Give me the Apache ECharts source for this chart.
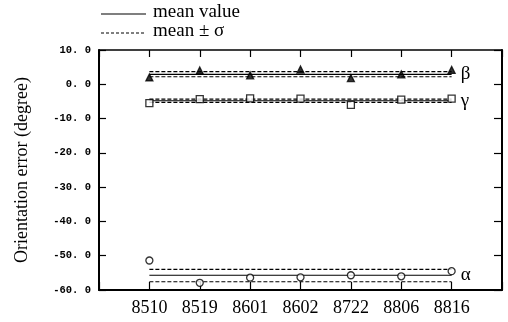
<!DOCTYPE html>
<html>
<head>
<meta charset="utf-8">
<script src="https://cdn.jsdelivr.net/npm/echarts@6/dist/echarts.min.js"></script>
<style>
  html, body { margin: 0; padding: 0; background: #fff; }
  #chart { width: 508px; height: 322px; }
</style>
</head>
<body>
<div id="chart"></div>
<script>
// receiver ids on the x axis
const categories = ['8510', '8519', '8601', '8602', '8722', '8806', '8816'];
const yTicks = [10, 0, -10, -20, -30, -40, -50, -60];

// orientation errors per receiver (degree)
const alpha = [-51.4, -57.9, -56.4, -56.3, -55.7, -56.0, -54.5];
const beta = [2.0, 4.0, 2.6, 4.3, 1.8, 2.9, 4.2];
const gamma = [-5.5, -4.35, -4.1, -4.2, -6.0, -4.5, -4.2];

// [mean + sigma, mean, mean - sigma]
const alphaBand = [-54.0, -55.7, -57.6];
const betaBand = [3.7, 2.9, 2.2];
const gammaBand = [-4.3, -4.8, -5.3];

const SERIF = '"Liberation Serif", "DejaVu Serif", serif';
const chart = echarts.init(document.getElementById('chart'));

const pts = arr => arr.map((v, i) => [i + 1, v]);
const flat = v => [[1, v], [categories.length, v]];

function group(name, values, band, symbol, size) {
  const dashed = {color: '#000', width: 1.2, type: [4, 2]};
  return [
    {
      type: 'line', data: flat(band[0]), symbol: 'none', silent: true,
      lineStyle: dashed,
    },
    {
      type: 'line', data: flat(band[1]), symbol: 'none', silent: true,
      lineStyle: {color: '#000', width: 1.2},
      endLabel: {
        show: true, formatter: name, distance: 9,
        fontFamily: SERIF, fontSize: 19, color: '#000',
      },
    },
    {
      type: 'line', data: flat(band[2]), symbol: 'none', silent: true,
      lineStyle: dashed,
    },
    {
      type: 'scatter', data: pts(values), symbol: symbol, symbolSize: size,
      itemStyle: {color: symbol === 'triangle' ? '#000' : '#fff', borderColor: '#000', borderWidth: 1.3},
      z: 5,
    },
  ];
}

const xBase = {
  type: 'value', min: 0, max: categories.length + 1, interval: 1,
  splitLine: {show: false},
  axisTick: {inside: true, length: 8, lineStyle: {color: '#000', width: 1.2}},
};

chart.setOption({
  animation: false,
  grid: {left: 99, right: 6, top: 50, bottom: 32},
  xAxis: [
    Object.assign({}, xBase, {
      position: 'bottom',
      axisLine: {onZero: false, lineStyle: {color: '#000', width: 2}},
      axisLabel: {
        margin: 9, color: '#000', fontFamily: SERIF, fontSize: 18,
        formatter: v => categories[v - 1] || '',
      },
    }),
    Object.assign({}, xBase, {
      position: 'top',
      axisLine: {onZero: false, lineStyle: {color: '#000', width: 1.5}},
      axisTick: {inside: true, length: 7, lineStyle: {color: '#000', width: 1.2}},
      axisLabel: {show: false},
    }),
  ],
  yAxis: [
    {
      type: 'value', position: 'left',
      min: yTicks[yTicks.length - 1], max: yTicks[0], interval: 10,
      splitLine: {show: false},
      axisLine: {show: true, onZero: false, lineStyle: {color: '#000', width: 2}},
      axisTick: {show: true, inside: true, length: 7, lineStyle: {color: '#000', width: 1.2}},
      axisLabel: {
        margin: 8, color: '#000', fontFamily: '"Liberation Mono", monospace',
        fontWeight: 'bold', fontSize: 10.5,
        formatter: v => v.toFixed(1).replace('.', '. '),
      },
      name: 'Orientation error (degree)',
      nameLocation: 'middle', nameGap: 68,
      nameTextStyle: {fontFamily: SERIF, fontSize: 18, color: '#000'},
    },
    {
      type: 'value', position: 'right',
      min: yTicks[yTicks.length - 1], max: yTicks[0], interval: 10,
      splitLine: {show: false},
      axisLine: {show: true, onZero: false, lineStyle: {color: '#000', width: 2}},
      axisTick: {show: true, inside: true, length: 8, lineStyle: {color: '#000', width: 1.2}},
      axisLabel: {show: false},
    },
  ],
  graphic: [
    {type: 'line', shape: {x1: 101, y1: 14, x2: 146, y2: 14}, style: {stroke: '#000', lineWidth: 1.2}},
    {type: 'text', left: 153, top: 3, style: {text: 'mean value', font: '19px ' + SERIF, fill: '#000'}},
    {type: 'line', shape: {x1: 101, y1: 33, x2: 146, y2: 33}, style: {stroke: '#000', lineWidth: 1.2, lineDash: [3, 2]}},
    {type: 'text', left: 153, top: 22, style: {text: 'mean ± σ', font: '19px ' + SERIF, fill: '#000'}},
  ],
  series: [].concat(
    group('β', beta, betaBand, 'triangle', 7),
    group('γ', gamma, gammaBand, 'rect', 7),
    group('α', alpha, alphaBand, 'circle', 7)
  ),
});
</script>
</body>
</html>
